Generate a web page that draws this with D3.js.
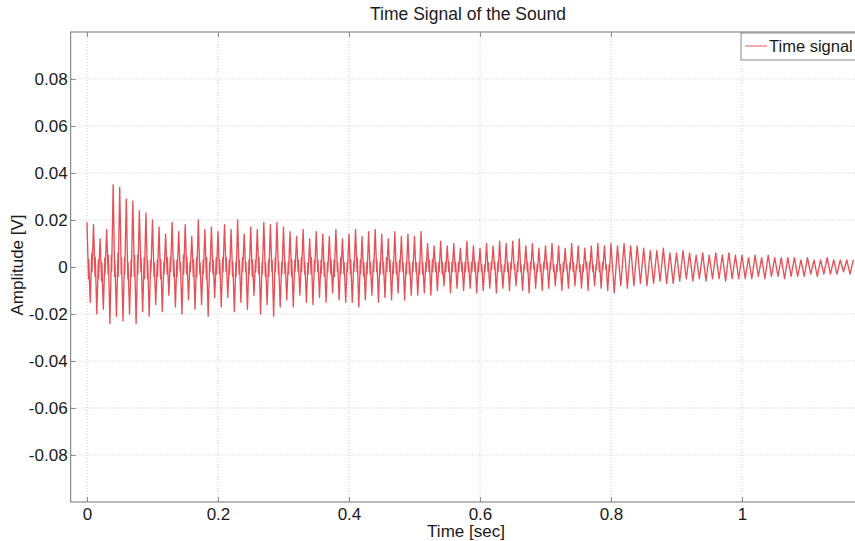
<!DOCTYPE html>
<html>
<head>
<meta charset="utf-8">
<script src="https://cdn.jsdelivr.net/npm/d3@7"></script>
<style>
body{margin:0;background:#fff;}
text{font-family:"Liberation Sans",Arial,Helvetica,sans-serif;fill:#1a1a1a;}
.grid line{stroke:#c8c8c8;stroke-dasharray:1,2;}
.tick text{font-size:17px;}
.signal{fill:none;stroke:#e2333a;stroke-width:1.35;stroke-opacity:0.85;stroke-linejoin:round;}
</style>
</head>
<body>
<div id="chart"></div>
<script>
var w = 855;
var h = 541;

// sample step of the peak list (sec)
var dt = 0.005;
// signal peaks, one row per 0.1 s
var signal = [
  0.019,-0.015,0.018,-0.020,0.012,-0.018,0.016,-0.024,0.035,-0.021,0.034,-0.023,0.029,-0.020,0.028,-0.024,0.024,-0.019,0.023,-0.021,
  0.020,-0.016,0.017,-0.019,0.014,-0.012,0.019,-0.017,0.015,-0.020,0.018,-0.014,0.013,-0.018,0.020,-0.016,0.016,-0.021,0.017,-0.013,
  0.015,-0.017,0.018,-0.013,0.016,-0.019,0.020,-0.015,0.014,-0.018,0.017,-0.012,0.016,-0.020,0.019,-0.016,0.018,-0.021,0.019,-0.017,
  0.017,-0.014,0.015,-0.017,0.013,-0.012,0.016,-0.015,0.012,-0.016,0.015,-0.013,0.014,-0.015,0.013,-0.011,0.016,-0.014,0.012,-0.015,
  0.014,-0.015,0.016,-0.017,0.013,-0.014,0.015,-0.012,0.016,-0.015,0.014,-0.013,0.012,-0.014,0.015,-0.011,0.013,-0.014,0.014,-0.012,
  0.013,-0.012,0.015,-0.011,0.010,-0.012,0.009,-0.010,0.011,-0.008,0.009,-0.011,0.010,-0.009,0.008,-0.010,0.011,-0.009,0.009,-0.011,
  0.008,-0.010,0.010,-0.009,0.009,-0.011,0.011,-0.009,0.010,-0.010,0.011,-0.008,0.012,-0.010,0.009,-0.011,0.010,-0.009,0.008,-0.010,
  0.009,-0.009,0.010,-0.008,0.009,-0.010,0.008,-0.009,0.010,-0.008,0.009,-0.009,0.008,-0.010,0.009,-0.008,0.010,-0.009,0.009,-0.010,
  0.010,-0.011,0.009,-0.008,0.010,-0.009,0.009,-0.008,0.009,-0.007,0.008,-0.008,0.007,-0.007,0.007,-0.006,0.008,-0.007,0.006,-0.007,
  0.006,-0.006,0.007,-0.005,0.006,-0.006,0.005,-0.005,0.006,-0.006,0.005,-0.005,0.006,-0.005,0.005,-0.006,0.006,-0.005,0.005,-0.005,
  0.005,-0.005,0.004,-0.005,0.005,-0.004,0.004,-0.005,0.005,-0.004,0.004,-0.004,0.004,-0.005,0.004,-0.004,0.004,-0.004,0.003,-0.004,
  0.004,-0.003,0.003,-0.004,0.003,-0.003,0.004,-0.003,0.003,-0.003,0.003,-0.002,0.003,-0.003,0.003
];
// small kinks near zero between two peaks (two per gap), first 0.8 s
var ripple = [
  -0.005,0.003, 0.006,-0.002, -0.004,0.004, 0.003,-0.005, -0.006,0.002, 0.004,-0.003, -0.003,0.005, 0.005,-0.002, -0.004,0.003, 0.006,-0.004,
  -0.003,0.004, 0.004,-0.003, -0.005,0.002, 0.003,-0.004, -0.004,0.005, 0.005,-0.003, -0.002,0.004, 0.004,-0.005, -0.005,0.003, 0.003,-0.002,
  -0.004,0.002, 0.003,-0.004, -0.005,0.003, 0.002,-0.003, -0.003,0.004, 0.004,-0.002, -0.004,0.003, 0.003,-0.004, -0.002,0.002, 0.005,-0.003,
  -0.003,0.004, 0.002,-0.002, -0.004,0.003, 0.004,-0.004, -0.003,0.002, 0.003,-0.003, -0.005,0.004, 0.002,-0.002, -0.003,0.003, 0.004,-0.003,
  -0.003,0.003, 0.004,-0.002, -0.002,0.004, 0.003,-0.003, -0.004,0.002, 0.002,-0.004, -0.003,0.003, 0.004,-0.002, -0.002,0.002, 0.003,-0.003,
  -0.004,0.003, 0.003,-0.002, -0.003,0.004, 0.002,-0.003, -0.004,0.002, 0.003,-0.004, -0.002,0.003, 0.004,-0.002, -0.003,0.002, 0.002,-0.003,
  -0.003,0.002, 0.002,-0.003, -0.004,0.003, 0.003,-0.002, -0.002,0.003, 0.004,-0.002, -0.003,0.002, 0.002,-0.003, -0.003,0.004, 0.003,-0.002,
  -0.002,0.003, 0.003,-0.003, -0.004,0.002, 0.002,-0.002, -0.003,0.003, 0.003,-0.004, -0.002,0.002, 0.004,-0.003, -0.003,0.002, 0.002,-0.002,
  -0.003,0.003, 0.002,-0.002, -0.002,0.004, 0.003,-0.003, -0.004,0.002, 0.002,-0.003, -0.003,0.002, 0.003,-0.002, -0.002,0.003, 0.002,-0.003,
  -0.003,0.002, 0.004,-0.002, -0.002,0.003, 0.002,-0.003, -0.003,0.002, 0.003,-0.002, -0.002,0.002, 0.002,-0.003, -0.003,0.002, 0.002,-0.002,
  -0.002,0.002, 0.002,-0.003, -0.003,0.002, 0.002,-0.002, -0.002,0.003, 0.003,-0.002, -0.002,0.002, 0.002,-0.002, -0.003,0.002, 0.002,-0.002,
  -0.002,0.002, 0.002,-0.002, -0.002,0.002, 0.002,-0.002, -0.002,0.002, 0.002,-0.002, -0.002,0.002, 0.002,-0.002, -0.002,0.002, 0.002,-0.002,
  -0.002,0.001, 0.001,-0.002, -0.002,0.002, 0.002,-0.001, -0.001,0.002, 0.002,-0.002, -0.002,0.001, 0.001,-0.002, -0.002,0.002, 0.002,-0.001,
  -0.001,0.001, 0.002,-0.002, -0.002,0.001, 0.001,-0.001, -0.002,0.002, 0.002,-0.001, -0.001,0.002, 0.001,-0.002, -0.002,0.001, 0.002,-0.001,
  -0.001,0.002, 0.002,-0.001, -0.002,0.001, 0.001,-0.002, -0.002,0.001, 0.002,-0.002, -0.001,0.001, 0.002,-0.001, -0.002,0.002, 0.001,-0.001,
  -0.002,0.001, 0.001,-0.002, -0.001,0.002, 0.002,-0.001, -0.002,0.001, 0.001,-0.001, -0.002,0.002, 0.002,-0.001, -0.001,0.001, 0.001,-0.002
];
var xTicks = [0, 0.2, 0.4, 0.6, 0.8, 1];
var yTicks = [-0.08, -0.06, -0.04, -0.02, 0, 0.02, 0.04, 0.06, 0.08];
var xMin = -0.025, xMax = 1.2;
var yMin = -0.1, yMax = 0.1;

var padLeft = 70.6, padTop = 32, padBottom = 502;
var xScale, yScale, svgChart;

function setScales(){
  xScale = d3.scaleLinear()
    .domain([xMin, xMax])
    .range([padLeft, padLeft + 655*(xMax - xMin)]);
  yScale = d3.scaleLinear()
    .domain([yMin, yMax])
    .range([padBottom, padTop]);
}

function fmt(d){
  return d3.format("~g")(d).replace("\u2212", "-");
}

// peaks plus the kinks in between, as time/value pairs
function signalPoints(){
  var pts = [];
  for(var i=0;i<signal.length;i++){
    pts.push({t: i*dt, v: signal[i]});
    if(2*i+1 < ripple.length && i < signal.length-1){
      pts.push({t: i*dt + 0.47*dt, v: ripple[2*i]});
      pts.push({t: i*dt + 0.53*dt, v: ripple[2*i+1]});
    }
  }
  return pts;
}

function drawAxes(){
  var x0 = xScale.range()[0], x1 = xScale.range()[1];

  // grid
  svgChart.append("g").attr("class","grid")
    .selectAll("line").data(xTicks).enter().append("line")
    .attr("x1", function(d){return xScale(d);}).attr("x2", function(d){return xScale(d);})
    .attr("y1", padTop).attr("y2", padBottom);
  svgChart.append("g").attr("class","grid")
    .selectAll("line").data(yTicks).enter().append("line")
    .attr("x1", x0).attr("x2", x1)
    .attr("y1", function(d){return yScale(d);}).attr("y2", function(d){return yScale(d);});

  // bottom / left axes with inward ticks
  svgChart.append("g")
    .attr("class","axis")
    .attr("transform","translate(0,"+padBottom+")")
    .call(d3.axisBottom(xScale).tickValues(xTicks).tickFormat(fmt).tickSizeInner(-5).tickSizeOuter(0).tickPadding(6));
  svgChart.append("g")
    .attr("class","axis")
    .attr("transform","translate("+x0+",0)")
    .call(d3.axisLeft(yScale).tickValues(yTicks).tickFormat(fmt).tickSizeInner(-5).tickSizeOuter(0).tickPadding(3));
  // top axis ticks (no labels)
  svgChart.append("g")
    .attr("class","axis")
    .attr("transform","translate(0,"+padTop+")")
    .call(d3.axisTop(xScale).tickValues(xTicks).tickFormat("").tickSizeInner(-5).tickSizeOuter(0));

  svgChart.selectAll(".axis path").remove();
  svgChart.selectAll(".axis line").attr("stroke","#8a8a8a");

  // box
  svgChart.append("rect")
    .attr("x", x0).attr("y", padTop)
    .attr("width", x1 - x0).attr("height", padBottom - padTop)
    .attr("fill","none").attr("stroke","#8a8a8a").attr("stroke-width",1.2);

  svgChart.append("text")
    .attr("x", 468).attr("y", 20)
    .style("text-anchor","middle")
    .style("font-size","17.5px")
    .text("Time Signal of the Sound");

  svgChart.append("text")
    .attr("x", 466).attr("y", 537)
    .style("text-anchor","middle")
    .style("font-size","17px")
    .text("Time [sec]");

  svgChart.append("text")
    .attr("transform","rotate(-90)")
    .attr("x", -265).attr("y", 23)
    .style("text-anchor","middle")
    .style("font-size","17px")
    .text("Amplitude [V]");
}

function drawSignal(){
  var line = d3.line()
    .x(function(d){ return xScale(d.t); })
    .y(function(d){ return yScale(d.v); });

  svgChart.append("path")
    .datum(signalPoints())
    .attr("class","signal")
    .attr("d", line);
}

function drawLegend(){
  var g = svgChart.append("g");
  g.append("rect")
    .attr("x", 741).attr("y", 33)
    .attr("width", 130).attr("height", 27)
    .attr("fill","#fff").attr("stroke","#8a8a8a");
  g.append("line")
    .attr("x1", 745).attr("x2", 767)
    .attr("y1", 46).attr("y2", 46)
    .attr("stroke","#d33").attr("stroke-width",0.8);
  g.append("text")
    .attr("x", 769).attr("y", 52)
    .style("font-size","16.5px")
    .text("Time signal");
}

setScales();
svgChart = d3.select("#chart").append("svg")
  .attr("width", w).attr("height", h);
drawAxes();
drawSignal();
drawLegend();
</script>
</body>
</html>
